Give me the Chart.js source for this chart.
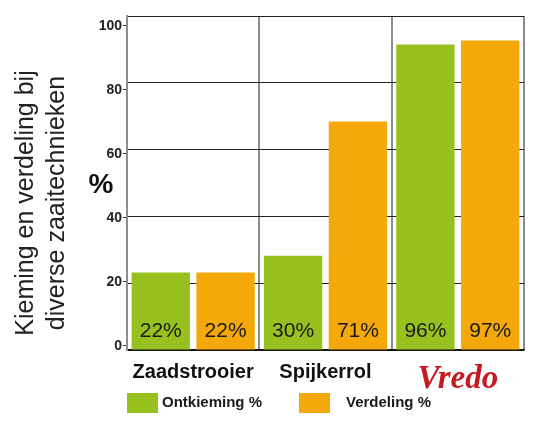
<!DOCTYPE html>
<html>
<head>
<meta charset="utf-8">
<script src="https://cdn.jsdelivr.net/npm/chart.js@4"></script>
<style>
    body { margin: 0; background: #fff; }
    #wrap { width: 547px; height: 428px; position: relative; }
</style>
</head>
<body>
<div id="wrap"><canvas id="chart"></canvas></div>
<script>
const categories = ['Zaadstrooier', 'Spijkerrol', 'Vredo']
const seriesNames = ['Ontkieming %', 'Verdeling %']
const ontkieming = [23.2, 28.2, 91.5]
const verdeling = [23.2, 68.4, 92.7]
const ontkiemingLabels = ['22%', '30%', '96%']
const verdelingLabels = ['22%', '71%', '97%']
const yTicks = [0, 20, 40, 60, 80, 100]
const yTitle = ['Kieming en verdeling bij', 'diverse zaaitechnieken']
const yUnit = '%'

const GREEN = '#96c11f'
const ORANGE = '#f5a80a'
const RED = '#c41a20'

// teksten in de balken, astitel, % en de legenda onderaan
const extraText = {
    id: 'extraText',
    afterDraw(chart) {
        const ctx = chart.ctx
        const area = chart.chartArea
        ctx.save()

        ctx.fillStyle = '#1a1a1a'
        ctx.font = '21px "Liberation Sans"'
        ctx.textAlign = 'center'
        ctx.textBaseline = 'middle'
        ;[ontkiemingLabels, verdelingLabels].forEach((labels, i) => {
            chart.getDatasetMeta(i).data.forEach((bar, j) => {
                ctx.fillText(labels[j], bar.x, bar.base - 18)
            })
        })

        // y titel, gedraaid
        ctx.save()
        ctx.translate(area.left - 101, (area.top + area.bottom) / 2 + 20)
        ctx.rotate(-Math.PI / 2)
        ctx.fillStyle = '#222'
        ctx.font = '25px "Liberation Sans"'
        yTitle.forEach((line, i) => ctx.fillText(line, 0, i * 31))
        ctx.restore()

        ctx.fillStyle = '#111'
        ctx.font = 'bold 28px "Liberation Sans"'
        ctx.fillText(yUnit, area.left - 26, 185)

        // legenda
        const colors = [GREEN, ORANGE]
        const boxTop = area.bottom + 43
        const itemX = [area.left, area.left + 172]
        const textGap = [4, 16]
        ctx.font = 'bold 15px "Liberation Sans"'
        ctx.textAlign = 'left'
        seriesNames.forEach((name, i) => {
            ctx.fillStyle = colors[i]
            ctx.fillRect(itemX[i], boxTop, 31, 20)
            ctx.fillStyle = '#1a1a1a'
            ctx.fillText(name, itemX[i] + 31 + textGap[i], boxTop + 10)
        })
        ctx.restore()
    }
}

new Chart(document.getElementById('chart'), {
    type: 'bar',
    data: {
        labels: categories,
        datasets: [
            {
                label: seriesNames[0],
                data: ontkieming,
                backgroundColor: GREEN,
                categoryPercentage: 0.98,
                barPercentage: 0.9,
                yAxisID: 'y',
            },
            {
                label: seriesNames[1],
                data: verdeling,
                backgroundColor: ORANGE,
                categoryPercentage: 0.98,
                barPercentage: 0.9,
                yAxisID: 'y',
            }
        ]
    },
    options: {
        responsive: true,
        maintainAspectRatio: false,
        animation: false,
        layout: {
            padding: { top: 16, right: 23, left: 0, bottom: 0 }
        },
        plugins: {
            legend: { display: false },
            tooltip: { enabled: false }
        },
        scales: {
            x: {
                grid: {
                    offset: true,
                    color: ctx => ctx.index === categories.length ? '#555' : '#8c8c8c',
                    lineWidth: 2,
                    drawTicks: false,
                },
                border: { color: '#111', width: 1.5 },
                ticks: {
                    padding: 10,
                    color: ctx => ctx.index === 2 ? RED : '#111',
                    font: ctx => ctx.index === 2
                        ? { family: '"Liberation Serif"', size: 33, weight: 'bold', style: 'italic' }
                        : { family: '"Liberation Sans"', size: 20, weight: 'bold' },
                },
                afterFit: s => { s.height = 78 },
            },
            y: {
                position: 'left',
                min: 0,
                max: 100,
                ticks: { stepSize: 20, display: false },
                grid: { color: '#222', lineWidth: 1, drawTicks: false },
                border: { display: false },
                afterFit: s => { s.width = 0 },
            },
            yLabels: {
                position: 'left',
                min: -1.3,
                max: 103.1,
                afterBuildTicks: s => { s.ticks = yTicks.map(v => ({ value: v })) },
                ticks: {
                    padding: 1,
                    color: '#222',
                    font: { family: '"Liberation Sans"', size: 14, weight: 'bold' },
                },
                grid: { drawOnChartArea: false, tickLength: 4, color: '#444' },
                border: { color: '#8c8c8c', width: 2 },
                afterFit: s => { s.width = 127 },
            }
        }
    },
    plugins: [extraText]
})
</script>
</body>
</html>
